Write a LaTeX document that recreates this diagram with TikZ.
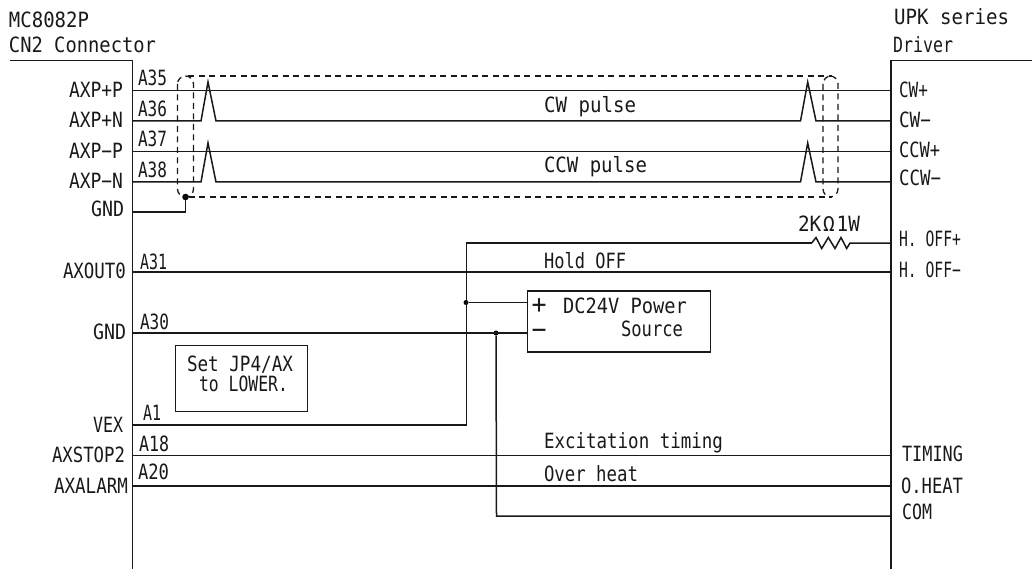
\documentclass[tikz,border=0pt]{standalone}
\usepackage{graphicx}
\usepackage{fontspec}
\setmainfont{DejaVu Sans Mono}
\newcommand{\tw}[2]{\resizebox{#1pt}{\height}{#2}}
\tikzset{
  wire/.style={line width=1.5pt,black!90,line join=miter},
  shield/.style={line width=1.3pt,dash pattern=on 6pt off 4.5pt,black!90},
  lab/.style={anchor=base west,inner sep=0pt,outer sep=0pt,font=\fontsize{21}{21}\selectfont,text=black!90},
  bigsign/.style={anchor=center,inner sep=0pt,font=\fontsize{26}{26}\selectfont,text=black!90},
  boxn/.style={draw,line width=1.5pt,black!90,fill=none,inner sep=0pt,anchor=north west},
  dotn/.style={circle,fill=black,inner sep=0pt,minimum size=5pt},
  dotb/.style={circle,fill=black,inner sep=0pt,minimum size=6.5pt}
}
\begin{document}
\begin{tikzpicture}[x=1pt,y=-1pt]
\useasboundingbox (0,0) rectangle (1032,569);
% connector bodies
\coordinate (LT) at (10,60.5);
\coordinate (LC) at (132.5,60.5);
\coordinate (LB) at (132.5,569);
\coordinate (RT) at (1032,60.5);
\coordinate (RC) at (891,60.5);
\coordinate (RB) at (891,569);
\draw[wire] (LT) -- (LC) -- (LB);
\draw[wire] (RT) -- (RC) -- (RB);
% helper coordinates on the connectors
\foreach \n/\y in {a/90.5,b/121,c/151.5,d/182,e/212,f/272,g/333,h/425,i/455.5,j/486}
  \coordinate (L\n) at (132.5,\y);
\foreach \n/\y in {a/90.5,b/121,c/151.5,d/182,k/243,f/272,i/455.5,j/486,m/516}
  \coordinate (R\n) at (891,\y);
% boxes
\node[boxn,minimum width=183pt,minimum height=61pt] (psu) at (526.5,290) {};
\node[boxn,minimum width=132pt,minimum height=66pt] (setbox) at (174.5,344.5) {};
% junctions
\node[dotb] (jsh) at (185.5,197) {};
\node[dotn] (jp) at (466,302.5) {};
\node[dotn] (jn) at (496,333) {};
\coordinate (psup) at (526.5,302.5);
\coordinate (psun) at (526.5,333);
\coordinate (topv) at (466.5,243);
\coordinate (botv) at (466.5,425);
\coordinate (botn) at (496.5,516);
\coordinate (r1) at (811.7,243);
\coordinate (r2) at (850,243);
% signal wires
\draw[wire] (La) -- (Ra);
\draw[wire] (Lb) -- (201,121) -- (208,82) -- (216,121) -- (800.5,121) -- (807.7,82) -- (816,121) -- (Rb);
\draw[wire] (Lc) -- (Rc);
\draw[wire] (Ld) -- (201,182) -- (208,143) -- (216,182) -- (800.5,182) -- (807.7,143) -- (816,182) -- (Rd);
\draw[wire] (Le) -- (185.5,212) -- (jsh);
\draw[wire] (Lf) -- (Rf);
\draw[wire] (Lg) -- (psun);
\draw[wire] (Lh) -- (botv) -- (topv) -- (r1);
\draw[wire] (r1) -- (816,237.5) -- (821.7,248.5) -- (828.3,237.5) -- (835,248.5) -- (841,237.5) -- (846.7,248.5) -- (r2) -- (Rk);
\draw[wire] (jp) -- (psup);
\draw[wire] (jn) -- (botn) -- (Rm);
\draw[wire] (Li) -- (Ri);
\draw[wire] (Lj) -- (Rj);
% shield
\draw[shield,rounded corners=8pt] (177.5,76) rectangle (193.5,197);
\draw[shield,rounded corners=8pt] (823,76) rectangle (838,197);
\coordinate (sh1) at (188,76);
\coordinate (sh2) at (832,76);
\coordinate (sh3) at (832,197);
\draw[shield] (sh1) -- (sh2);
\draw[shield] (jsh) -- (sh3);
% left texts
\node[lab] (t1) at (9,28) {\tw{80}{MC8082P}};
\node[lab] (t2) at (9,53) {\tw{147}{CN2 Connector}};
\node[lab] (t3) at (69,98) {\tw{54}{AXP+P}};
\node[lab] (t4) at (69,128) {\tw{54}{AXP+N}};
\node[lab] (t5) at (69,159) {\tw{54}{AXP−P}};
\node[lab] (t6) at (69,189) {\tw{54}{AXP−N}};
\node[lab] (t7) at (91,217) {\tw{33}{GND}};
\node[lab] (t8) at (63,278) {\tw{63}{AXOUT0}};
\node[lab] (t9) at (93,339) {\tw{33}{GND}};
\node[lab] (t10) at (93,432) {\tw{30}{VEX}};
\node[lab] (t11) at (52,462) {\tw{73}{AXSTOP2}};
\node[lab] (t12) at (54,493) {\tw{74}{AXALARM}};
% pin numbers
\node[lab] (p1) at (138,85.5) {\tw{29}{A35}};
\node[lab] (p2) at (138,117) {\tw{29}{A36}};
\node[lab] (p3) at (138,147) {\tw{29}{A37}};
\node[lab] (p4) at (138,178) {\tw{29}{A38}};
\node[lab] (p5) at (140,269) {\tw{27}{A31}};
\node[lab] (p6) at (140,329) {\tw{29}{A30}};
\node[lab] (p7) at (143,420) {\tw{18}{A1}};
\node[lab] (p8) at (139,451) {\tw{30}{A18}};
\node[lab] (p9) at (138,479) {\tw{31}{A20}};
% middle texts
\node[lab] (m1) at (544,113) {\tw{92}{CW pulse}};
\node[lab] (m2) at (544,173) {\tw{103}{CCW pulse}};
\node[lab] (m3) at (544,268) {\tw{82}{Hold OFF}};
\node[lab] (m4) at (544,448) {\tw{179}{Excitation timing}};
\node[lab] (m5) at (544,481) {\tw{94}{Over heat}};
\node[lab] (m6) at (798,231) {\tw{62}{2K\kern2ptΩ\kern2pt1W}};
% power box texts
\node[bigsign] (s1) at (539,306) {\tw{15}{+}};
\node[bigsign] (s2) at (539,334) {\tw{15}{−}};
\node[lab] (m7) at (563,313) {\tw{124}{DC24V Power}};
\node[lab] (m8) at (621,336) {\tw{62}{Source}};
% note box texts
\node[lab] (n1) at (187,371) {\tw{106}{Set JP4/AX}};
\node[lab] (n2) at (199,391) {\tw{89}{to LOWER.}};
% right texts
\node[lab] (r01) at (894,25) {\tw{115}{UPK series}};
\node[lab] (r02) at (893,53) {\tw{60}{Driver}};
\node[lab] (r03) at (899,98) {\tw{29}{CW+}};
\node[lab] (r04) at (899,128) {\tw{32}{CW−}};
\node[lab] (r05) at (899,158) {\tw{41}{CCW+}};
\node[lab] (r06) at (899,186) {\tw{42}{CCW−}};
\node[lab] (r07) at (899,247) {\tw{62}{H. OFF+}};
\node[lab] (r08) at (899,277) {\tw{62}{H. OFF−}};
\node[lab] (r09) at (902,461) {\tw{61}{TIMING}};
\node[lab] (r10) at (901,493) {\tw{62}{O.HEAT}};
\node[lab] (r11) at (902,519) {\tw{30}{COM}};
\end{tikzpicture}
\end{document}
